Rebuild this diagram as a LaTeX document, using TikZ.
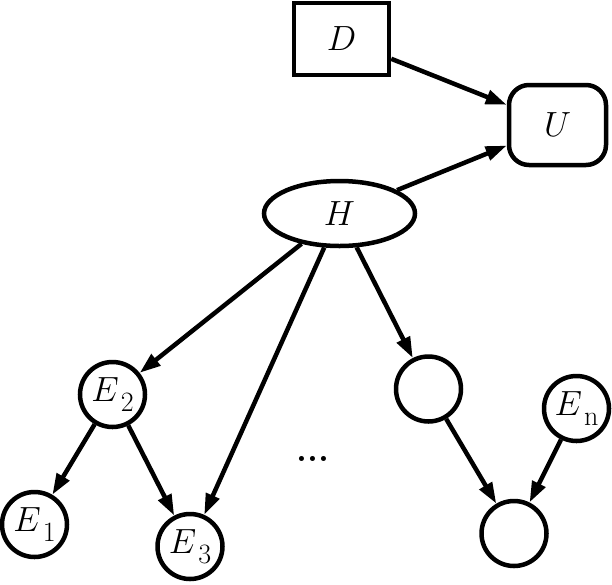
\RequirePackage{fix-cm}
\documentclass[tikz,border=0pt]{standalone}
\usetikzlibrary{arrows.meta,shapes.geometric}
\newcommand\mysub[1]{\kern2pt\raisebox{-10pt}{\fontsize{28}{28}\selectfont #1}}
\begin{document}
\begin{tikzpicture}[x=1pt,y=-1pt,
  every node/.style={font=\fontsize{35}{40}\selectfont, inner sep=0pt, line width=4.5pt},
  circ/.style={draw, circle, minimum size=65pt},
  boxnode/.style={draw, rectangle, minimum width=95pt, minimum height=72pt},
  roundbox/.style={draw, rectangle, rounded corners=20pt, minimum width=97pt, minimum height=80pt},
  ell/.style={draw, ellipse, minimum width=151pt, minimum height=65pt},
  edge/.style={line width=4.5pt, -{Triangle[length=21pt,width=14pt]}}]
\useasboundingbox (0,0) rectangle (612,584);
\node[boxnode] (D) at (341.5,39) {$D$};
\node[roundbox] (U) at (557.5,125) {$U$};
\node[ell] (H) at (339.5,213.5) {$H$};
\node[circ] (E2) at (112.5,394.5) {$E$\mysub{2}};
\node[circ] (E1) at (34.5,524.5) {$E$\mysub{1}};
\node[circ] (E3) at (190,546.5) {$E$\mysub{3}};
\node[circ] (B1) at (428.5,389) {};
\node[circ] (En) at (576.5,408.5) {$E$\mysub{n}};
\node[circ] (B2) at (514,533.5) {};
\node[anchor=base, font={\fontsize{35}{40}\selectfont\bfseries}] (dots) at (313,461) {...};
\draw[edge] (D) -- (U);
\draw[edge] (H) -- (U);
\draw[edge] (H) -- (E2);
\draw[edge] (H) -- (E3);
\draw[edge] (H) -- (B1);
\draw[edge] (E2) -- (E1);
\draw[edge] (E2) -- (E3);
\draw[edge] (B1) -- (B2);
\draw[edge] (En) -- (B2);
\end{tikzpicture}
\end{document}
